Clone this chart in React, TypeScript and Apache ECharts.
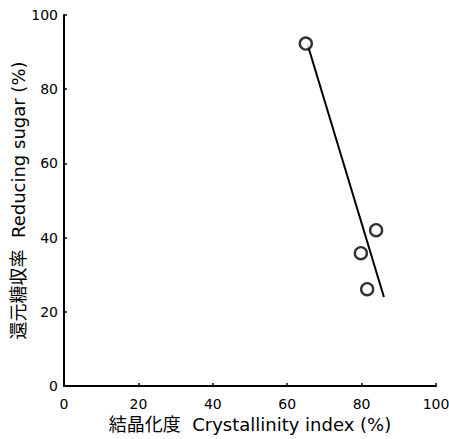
import React, { useEffect, useRef } from "react";
import * as echarts from "echarts";

// Measured samples: crystallinity index (%) vs reducing sugar yield (%)
const crystallinity = [65, 79.8, 81.5, 83.9];
const reducingSugar = [92.3, 35.8, 26.1, 42.0];

// Fitted trend line end points
const trendX = [65.5, 86];
const trendY = [92, 24];

const xTicks = [0, 20, 40, 60, 80, 100];
const yTicks = [0, 20, 40, 60, 80, 100];

const FONT = "'DejaVu Sans', 'Noto Sans CJK JP', sans-serif";

export default function App() {
  const ref = useRef<HTMLDivElement>(null);

  useEffect(() => {
    if (!ref.current) return;
    const chart = echarts.init(ref.current, undefined, { renderer: "svg" });
    const axisCommon = {
      type: "value" as const,
      min: xTicks[0],
      max: xTicks[xTicks.length - 1],
      interval: 20,
      splitLine: { show: false },
      axisLine: { show: true, lineStyle: { color: "#000", width: 2 } },
      axisTick: { show: true, inside: true, length: 3, lineStyle: { color: "#000", width: 1.5 } },
      nameLocation: "middle" as const,
      nameMoveOverlap: false,
      nameTextStyle: { color: "#000", fontSize: 18, fontFamily: FONT },
    };
    chart.setOption({
      animation: false,
      backgroundColor: "#fff",
      grid: {
        left: 64,
        right: 13,
        top: 15,
        bottom: 53,
        containLabel: false,
        outerBoundsMode: "none",
      },
      xAxis: {
        ...axisCommon,
        name: "結晶化度  Crystallinity index (%)",
        nameGap: 29,
        axisLabel: { color: "#000", fontSize: 14, fontFamily: FONT, margin: 11 },
      },
      yAxis: {
        ...axisCommon,
        min: yTicks[0],
        max: yTicks[yTicks.length - 1],
        name: "還元糖収率  Reducing sugar (%)",
        nameGap: 37,
        nameRotate: 90,
        axisLabel: { color: "#000", fontSize: 14, fontFamily: FONT, margin: 6 },
      },
      series: [
        {
          type: "line",
          data: trendX.map((x, i) => [x, trendY[i]]),
          symbol: "none",
          lineStyle: { color: "#000", width: 2 },
          z: 1,
        },
        {
          type: "scatter",
          data: crystallinity.map((x, i) => [x, reducingSugar[i]]),
          symbol: "circle",
          symbolSize: 12,
          itemStyle: { color: "#fff", borderColor: "#000", borderWidth: 2.4 },
          z: 2,
        },
      ],
    });
    return () => chart.dispose();
  }, []);

  return <div ref={ref} style={{ width: 449, height: 439, position: "absolute", left: 0, top: 0 }} />;
}
